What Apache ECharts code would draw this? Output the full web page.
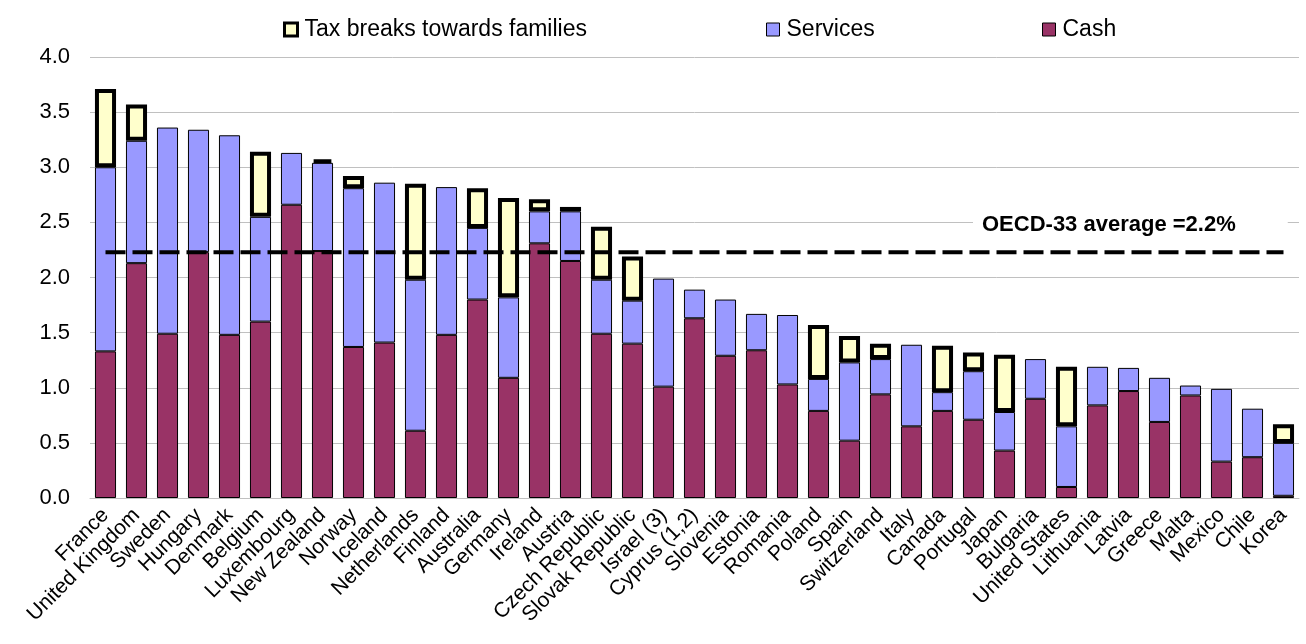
<!DOCTYPE html>
<html>
<head>
<meta charset="utf-8">
<script src="https://cdn.jsdelivr.net/npm/echarts@6/dist/echarts.min.js"></script>
<style>
html,body{margin:0;padding:0;background:#fff;}
#chart{width:1306px;height:644px;}
</style>
</head>
<body>
<div id="chart"></div>
<script>
const categories = ["France","United Kingdom","Sweden","Hungary","Denmark","Belgium","Luxembourg","New Zealand","Norway","Iceland","Netherlands","Finland","Australia","Germany","Ireland","Austria","Czech Republic","Slovak Republic","Israel (3)","Cyprus (1,2)","Slovenia","Estonia","Romania","Poland","Spain","Switzerland","Italy","Canada","Portugal","Japan","Bulgaria","United States","Lithuania","Latvia","Greece","Malta","Mexico","Chile","Korea"];
const cash = [1.33,2.13,1.49,2.23,1.48,1.60,2.66,2.24,1.37,1.41,0.61,1.48,1.80,1.09,2.31,2.15,1.49,1.40,1.01,1.63,1.29,1.34,1.03,0.79,0.52,0.94,0.65,0.79,0.71,0.43,0.90,0.10,0.84,0.97,0.69,0.93,0.33,0.37,0.02];
const services = [1.67,1.11,1.87,1.11,1.81,0.95,0.47,0.80,1.44,1.45,1.37,1.34,0.65,0.73,0.29,0.45,0.49,0.39,0.98,0.26,0.51,0.33,0.63,0.29,0.71,0.32,0.74,0.17,0.44,0.35,0.36,0.55,0.35,0.21,0.40,0.09,0.66,0.44,0.48];
const taxBreaks = [0.71,0.33,0,0,0,0.59,0,0.03,0.11,0,0.87,0,0.36,0.90,0.11,0.04,0.48,0.40,0,0,0,0,0,0.49,0.24,0.14,0,0.42,0.17,0.52,0,0.54,0,0,0,0,0,0,0.17];
const oecdAverage = 2.23;
const yTicks = [0,0.5,1.0,1.5,2.0,2.5,3.0,3.5,4.0];
const seriesNames = ['Tax breaks towards families', 'Services', 'Cash'];

const chart = echarts.init(document.getElementById('chart'));
const font = 'Liberation Sans, Arial, sans-serif';
const legendLefts = [283, 766, 1042];
const legendBorders = [3, 1, 1];
const option = {
  animation: false,
  backgroundColor: '#fff',
  textStyle: {fontFamily: font},
  legend: seriesNames.map((n, i) => ({
    left: legendLefts[i], top: 18, padding: 0,
    icon: 'rect', itemWidth: 13, itemHeight: 13, itemGap: 0,
    textStyle: {fontSize: 23, color: '#000', fontFamily: font, padding: [0, 0, 0, 2]},
    data: [{name: n, itemStyle: {borderWidth: legendBorders[i], borderColor: '#000'}}]
  })),
  grid: {left: 90, right: 7, top: 57, bottom: 146},
  xAxis: {
    type: 'category',
    data: categories,
    axisTick: {show: false},
    axisLine: {lineStyle: {color: '#c0c0c0', width: 1}},
    axisLabel: {interval: 0, rotate: 45, fontSize: 21, color: '#000', fontFamily: font, margin: 14}
  },
  yAxis: {
    type: 'value', min: yTicks[0], max: yTicks[yTicks.length-1], interval: 0.5,
    axisLine: {show: false}, axisTick: {show: false},
    splitLine: {lineStyle: {color: '#c0c0c0', width: 1}},
    axisLabel: {fontSize: 22, color: '#000', fontFamily: font, margin: 20, formatter: v => v.toFixed(1)}
  },
  series: [
    {name: 'Cash', type: 'bar', stack: 'a', barWidth: '68%', data: cash,
     itemStyle: {color: '#993366', borderColor: '#000', borderWidth: 1}},
    {name: 'Services', type: 'bar', stack: 'a', data: services,
     itemStyle: {color: '#9999FF', borderColor: '#000', borderWidth: 1}},
    {name: 'Tax breaks towards families', type: 'bar', stack: 'a',
     data: taxBreaks.map(v => v > 0 ? v : '-'),
     itemStyle: {color: '#FFFFCC', borderColor: '#000', borderWidth: 4}},
    {name: 'avg', type: 'line', data: categories.map(() => oecdAverage), symbol: 'none', z: 10,
     lineStyle: {color: '#000', width: 4, type: [20, 7]}, silent: true}
  ],
  graphic: [{
    type: 'text', left: 973, top: 211, z: 5,
    style: {text: 'OECD-33 average =2.2%', fontSize: 22, fontWeight: 'bold', fill: '#000',
            fontFamily: font, backgroundColor: '#fff', padding: [3, 52, 3, 9]}
  }]
};
chart.setOption(option);
</script>
</body>
</html>
